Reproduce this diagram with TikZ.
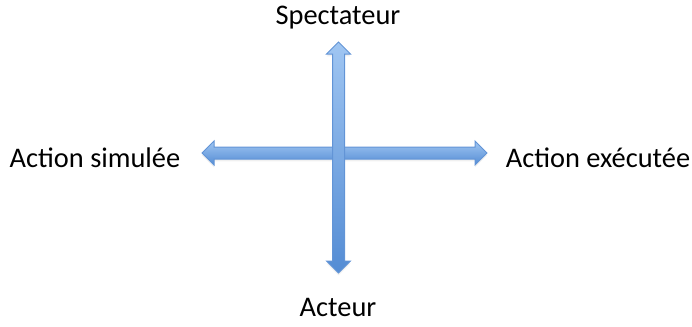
\documentclass[tikz,border=0pt]{standalone}
\usepackage{fontspec}
\setmainfont{Carlito}
\usetikzlibrary{shapes.arrows,positioning,shadows}
\definecolor{axislight}{RGB}{160,198,242}
\definecolor{axisdark}{RGB}{84,140,212}
\definecolor{axisline}{RGB}{98,148,214}

\tikzset{
  axisarrow/.style={double arrow, draw=axisline, line width=0.5pt,
    double arrow tip angle=90, double arrow head extend=3pt,
    inner xsep=0pt, inner ysep=2.75pt, minimum width=0pt,
    top color=axislight, bottom color=axisdark,
    drop shadow={opacity=0.12, shadow xshift=0pt, shadow yshift=-1.2pt}},
  axislabel/.style={font=\fontsize{14.2}{17}\selectfont, inner sep=0pt}
}

\begin{document}
\begin{tikzpicture}[x=0.5pt,y=-0.5pt]
  \useasboundingbox (0,0) rectangle (692,327);
  % the two axes
  \node[axisarrow, minimum height=142.5pt] (haxis) at (344.5,153) {};
  \node[axisarrow, minimum height=115.5pt, rotate=90] (vaxis) at (338.5,157.5) {};
  % labels
  \node[axislabel] (spect) at (338,18) {Spectateur};
  \node[axislabel] (acteur) at (338,307) {Acteur};
  \node[axislabel] (simul) at (95,158) {Action simulée};
  \node[axislabel] (exec) at (598,158) {Action exécutée};
\end{tikzpicture}
\end{document}
